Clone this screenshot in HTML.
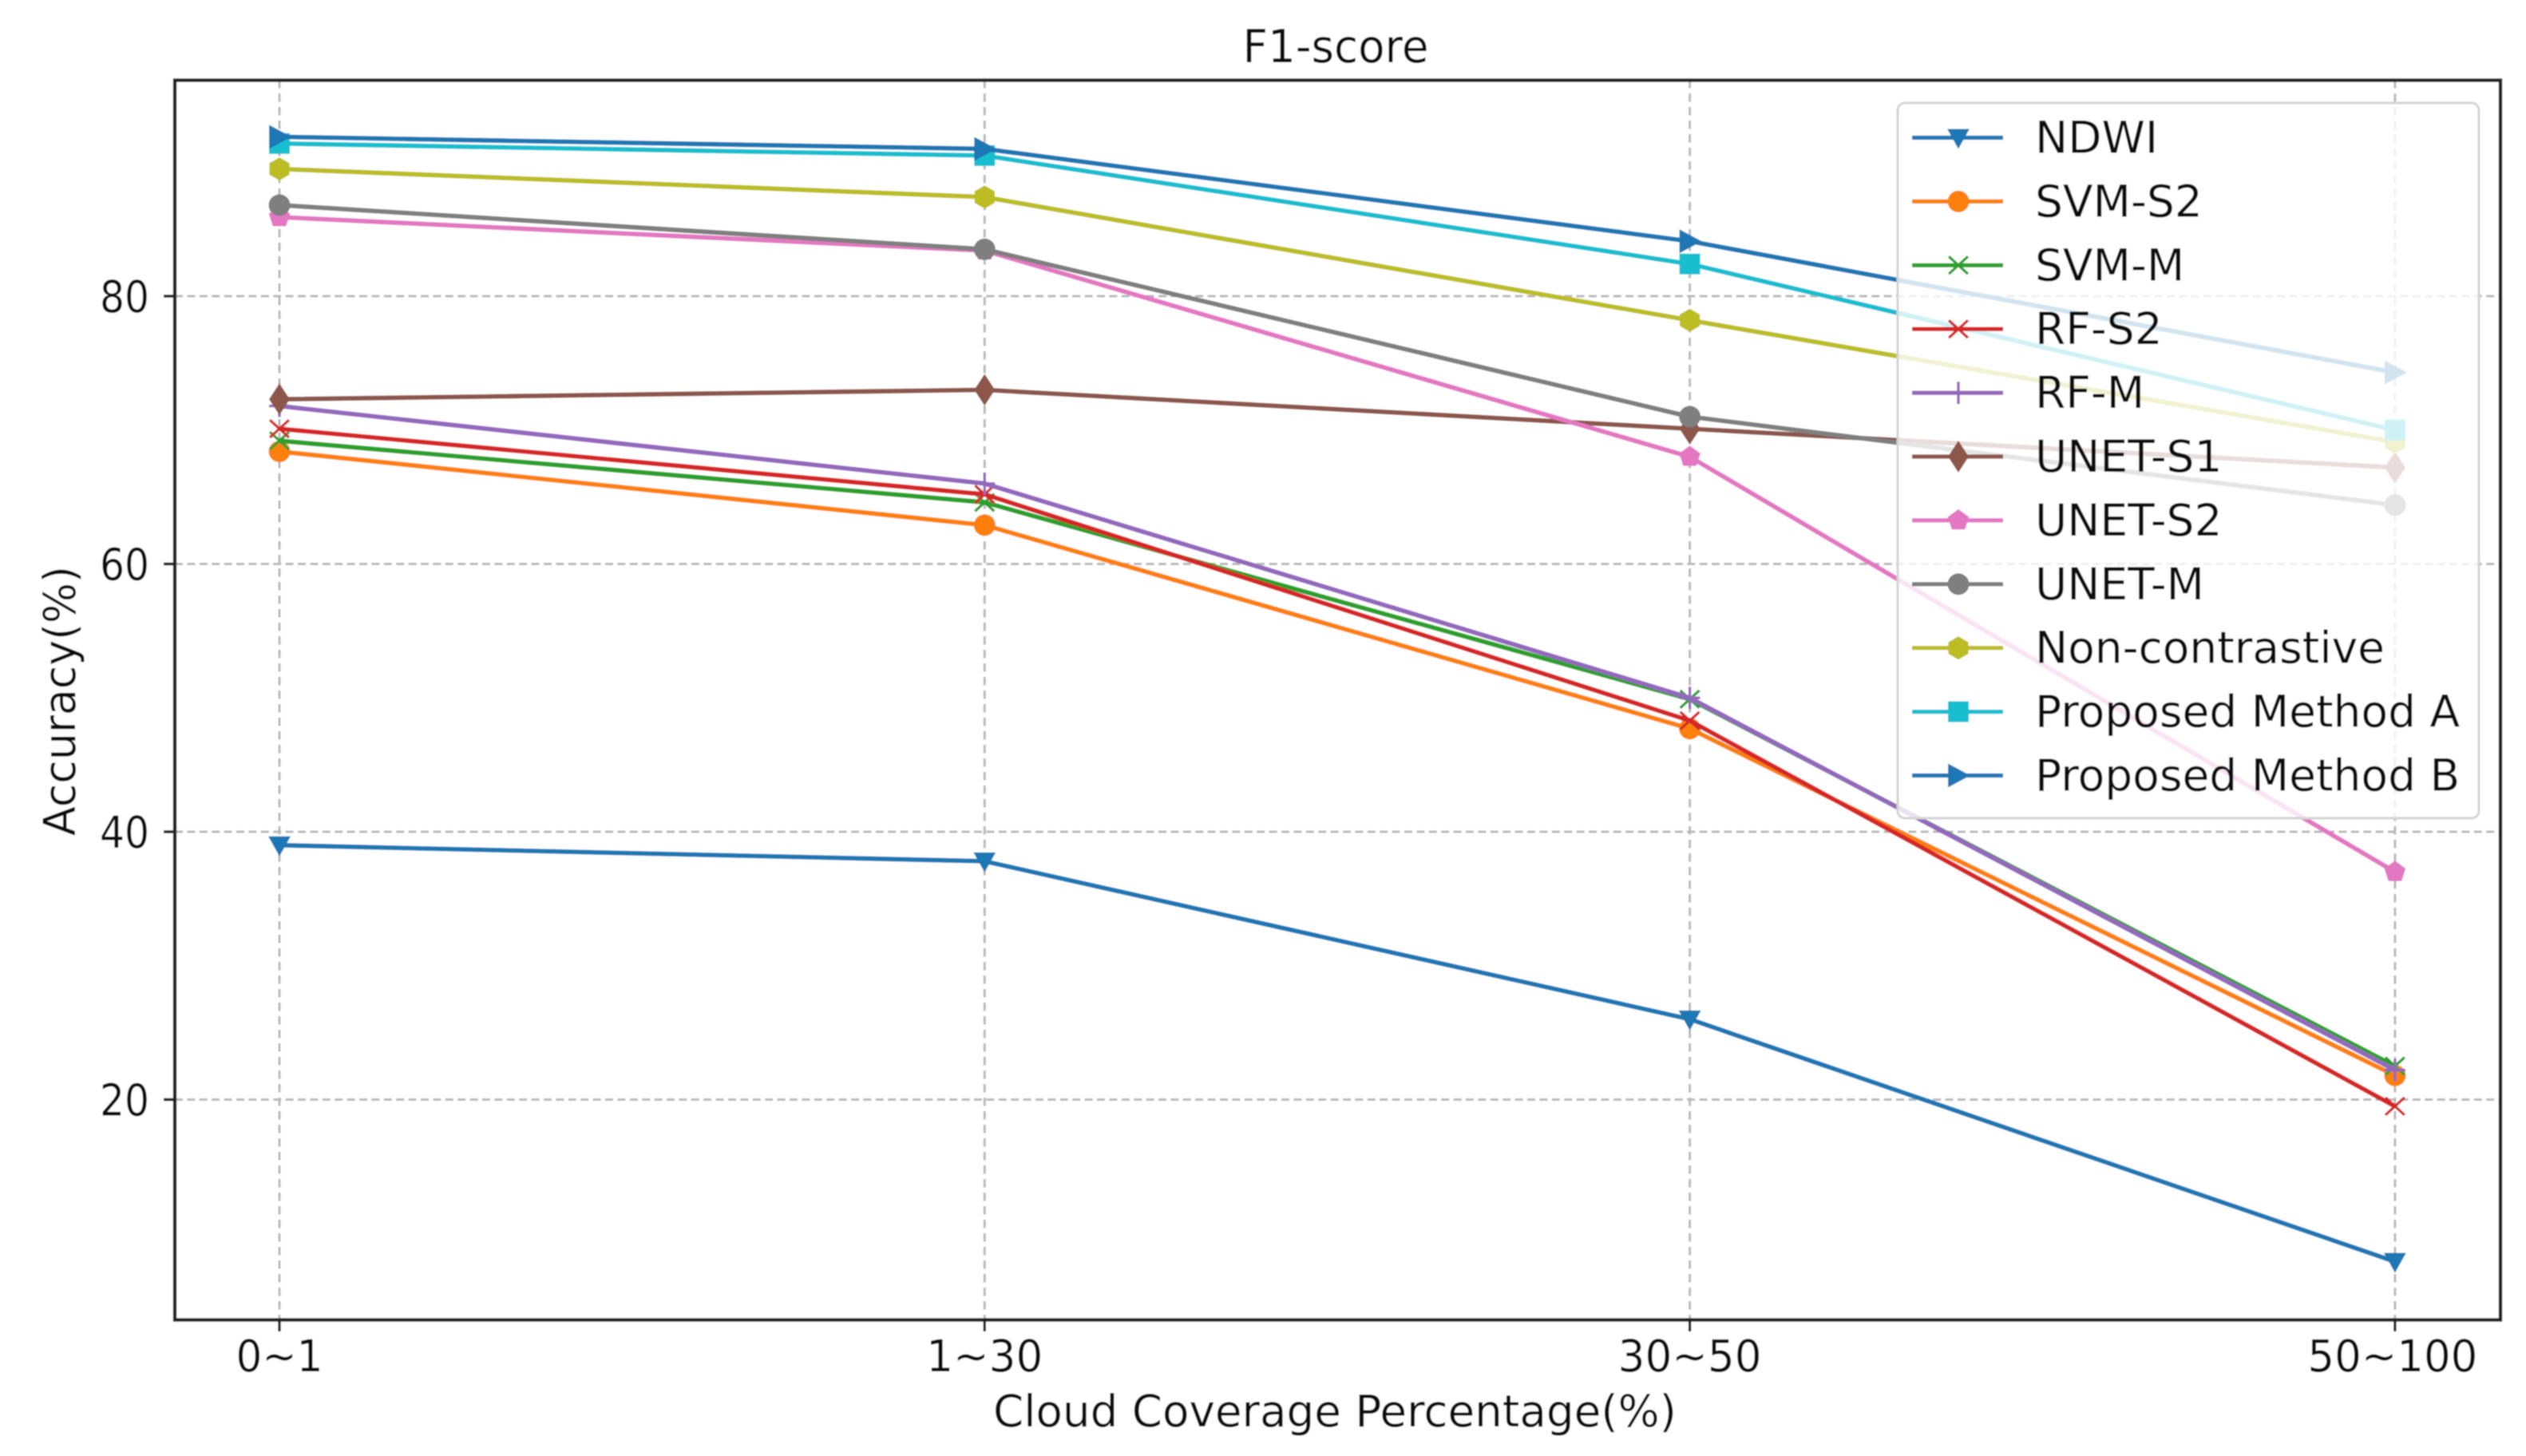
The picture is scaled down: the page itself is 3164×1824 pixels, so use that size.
<!DOCTYPE html>
<html lang="en">
<head>
<meta charset="utf-8">
<title>F1-score</title>
<style>
  html, body { margin: 0; padding: 0; background: #fff; }
  svg { display: block; }
  text { font-family: "DejaVu Sans", "Liberation Sans", sans-serif; fill: #0c0c0c; }
</style>
</head>
<body>
<svg id="chart" xmlns="http://www.w3.org/2000/svg" width="3164" height="1824" viewBox="0 0 3164 1824">
  <defs>
    <filter id="soften" x="0" y="0" width="100%" height="100%" filterUnits="objectBoundingBox">
      <feGaussianBlur stdDeviation="0.7"/>
    </filter>
  </defs>
  <rect x="0" y="0" width="3164" height="1824" fill="#ffffff"/>
  <g filter="url(#soften)">
    <rect x="0" y="0" width="3164" height="1824" fill="#ffffff"/>
    <g id="grid"></g>
    <g id="series"></g>
    <g id="legend"></g>
    <rect x="219" y="100.5" width="2913" height="1553" fill="none" stroke="#222222" stroke-width="4.4"/>
    <g id="ticks"></g>
    <text x="1673" y="78" font-size="57" text-anchor="middle" textLength="233" lengthAdjust="spacingAndGlyphs">F1-score</text>
    <text x="1672" y="1787" font-size="55" text-anchor="middle" textLength="856" lengthAdjust="spacingAndGlyphs">Cloud Coverage Percentage(%)</text>
    <text transform="translate(94 878) rotate(-90)" font-size="55" text-anchor="middle" textLength="338" lengthAdjust="spacingAndGlyphs">Accuracy(%)</text>
  </g>
</svg>
<script>
const categories = ["0~1", "1~30", "30~50", "50~100"];
const yTickValues = [80, 60, 40, 20];

const seriesNames = ["NDWI", "SVM-S2", "SVM-M", "RF-S2", "RF-M", "UNET-S1", "UNET-S2", "UNET-M", "Non-contrastive", "Proposed Method A", "Proposed Method B"];
const seriesColors = ["#1f77b4", "#ff7f0e", "#2ca02c", "#d62728", "#9467bd", "#8c564b", "#e377c2", "#7f7f7f", "#bcbd22", "#17becf", "#1f77b4"];
const seriesMarkers = ["triangle-down", "circle", "x", "x", "plus", "thin-diamond", "pentagon", "circle", "hexagon", "square", "triangle-right"];

const ndwi = [39, 37.8, 26, 7.9];
const svmS2 = [68.4, 62.9, 47.7, 21.8];
const svmM = [69.2, 64.6, 49.9, 22.5];
const rfS2 = [70.1, 65.2, 48.3, 19.5];
const rfM = [71.8, 66, 50, 22.2];
const unetS1 = [72.3, 73, 70.1, 67.2];
const unetS2 = [85.9, 83.4, 68, 37];
const unetM = [86.8, 83.5, 71, 64.4];
const nonContrastive = [89.5, 87.4, 78.2, 69.1];
const proposedA = [91.4, 90.5, 82.4, 70];
const proposedB = [91.9, 91, 84.1, 74.3];
const seriesValues = [ndwi, svmS2, svmM, rfS2, rfM, unetS1, unetS2, unetM, nonContrastive, proposedA, proposedB];

const NS = "http://www.w3.org/2000/svg";
const xScale = i => 350 + i * 883.3;
const yScale = v => 371 + (80 - v) * 16.775;

function make(tag, attrs, parent) {
  const el = document.createElementNS(NS, tag);
  for (const k in attrs) el.setAttribute(k, attrs[k]);
  parent.appendChild(el);
  return el;
}

function polygonPoints(cx, cy, r, n, startDeg) {
  const pts = [];
  for (let i = 0; i < n; i++) {
    const a = (startDeg + i * 360 / n) * Math.PI / 180;
    pts.push((cx + r * Math.cos(a)).toFixed(1) + "," + (cy + r * Math.sin(a)).toFixed(1));
  }
  return pts.join(" ");
}

function drawMarker(parent, shape, cx, cy, color) {
  let el;
  if (shape === "circle") {
    el = make("circle", { cx: cx, cy: cy, r: 13.5, fill: color }, parent);
  } else if (shape === "square") {
    el = make("rect", { x: cx - 13, y: cy - 13, width: 26, height: 26, fill: color }, parent);
  } else if (shape === "triangle-down") {
    el = make("polygon", { points: `${cx - 14},${cy - 11} ${cx + 14},${cy - 11} ${cx},${cy + 14}`, fill: color }, parent);
  } else if (shape === "triangle-right") {
    el = make("polygon", { points: `${cx - 13},${cy - 15} ${cx + 15},${cy} ${cx - 13},${cy + 15}`, fill: color }, parent);
  } else if (shape === "thin-diamond") {
    el = make("polygon", { points: `${cx},${cy - 20} ${cx + 13},${cy} ${cx},${cy + 20} ${cx - 13},${cy}`, fill: color }, parent);
  } else if (shape === "pentagon") {
    el = make("polygon", { points: polygonPoints(cx, cy, 14, 5, -90), fill: color }, parent);
  } else if (shape === "hexagon") {
    el = make("polygon", { points: polygonPoints(cx, cy, 14.5, 6, -90), fill: color }, parent);
  } else if (shape === "x") {
    el = make("path", { d: `M${cx - 12} ${cy - 11}L${cx + 12} ${cy + 11}M${cx + 12} ${cy - 11}L${cx - 12} ${cy + 11}`, stroke: color, "stroke-width": 3.4, fill: "none" }, parent);
  } else {
    el = make("path", { d: `M${cx - 13} ${cy}L${cx + 13} ${cy}M${cx} ${cy - 14}L${cx} ${cy + 14}`, stroke: color, "stroke-width": 3.4, fill: "none" }, parent);
  }
  return el;
}

const gridG = document.getElementById("grid");
const ticksG = document.getElementById("ticks");
const seriesG = document.getElementById("series");
const legendG = document.getElementById("legend");

function fitWidth(label) {
  return label.length === 3 ? 109 : label.length === 4 ? 146 : label.length === 5 ? 180 : 213;
}

yTickValues.forEach(v => {
  const gl = make("line", { x1: 219, x2: 3132, y1: yScale(v), y2: yScale(v), stroke: "#b9b9b9", "stroke-width": 3, "stroke-dasharray": "10 5.4" }, gridG);
  
  
  const tk = make("line", { x1: 205, x2: 219, y1: yScale(v), y2: yScale(v), stroke: "#222", "stroke-width": 3.6 }, ticksG);
  
  
  const lb = make("text", { x: 187, y: yScale(v) + 20, "font-size": 55, "text-anchor": "end", textLength: 62, lengthAdjust: "spacingAndGlyphs" }, ticksG);
  lb.textContent = String(v);
  
  
});

categories.forEach((c, i) => {
  const gl = make("line", { x1: xScale(i), x2: xScale(i), y1: 100, y2: 1653, stroke: "#b9b9b9", "stroke-width": 3, "stroke-dasharray": "10.5 6.5" }, gridG);
  
  
  const tk = make("line", { x1: xScale(i), x2: xScale(i), y1: 1653, y2: 1668, stroke: "#222", "stroke-width": 3.4 }, ticksG);
  
  
  const lb = make("text", { x: xScale(i) + (i === 3 ? -3 : 0), y: 1718, "font-size": 55, "text-anchor": "middle", textLength: fitWidth(c), lengthAdjust: "spacingAndGlyphs" }, ticksG);
  lb.textContent = c;
  
  
});

seriesValues.forEach((vals, s) => {
  const group = make("g", {}, seriesG);
  
  
  const pts = vals.map((v, i) => xScale(i).toFixed(1) + "," + yScale(v).toFixed(1)).join(" ");
  const line = make("polyline", { points: pts, fill: "none", stroke: seriesColors[s], "stroke-width": 5.8, "stroke-linejoin": "round" }, group);
  
  
  vals.forEach((v, i) => {
    const m = drawMarker(group, seriesMarkers[s], xScale(i), yScale(v), seriesColors[s]);
    
    
  });
});

const legendBox = make("rect", { x: 2377, y: 129, width: 728, height: 896, rx: 9, ry: 9, fill: "#ffffff", "fill-opacity": 0.8, stroke: "#d4d4d4", "stroke-width": 3 }, legendG);



seriesNames.forEach((name, s) => {
  const y = 172.5 + s * 79.9;
  const entry = make("g", {}, legendG);
  
  
  const h = make("line", { x1: 2395, x2: 2509, y1: y, y2: y, stroke: seriesColors[s], "stroke-width": 5.2 }, entry);
  
  
  const m = drawMarker(entry, seriesMarkers[s], 2453, y, seriesColors[s]);
  
  
  const t = make("text", { x: 2549, y: y + 19, "font-size": 55 }, entry);
  t.textContent = name;
  
  
});
</script>
</body>
</html>
